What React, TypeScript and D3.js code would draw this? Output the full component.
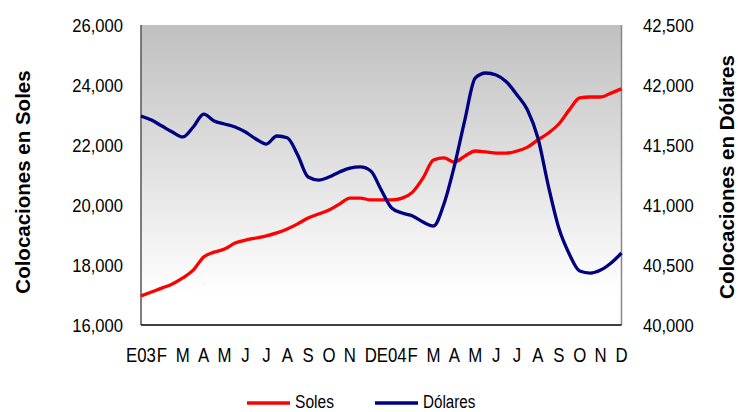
import React from 'react';
import * as d3 from 'd3';

const monthLabels = ['E03', 'F', 'M', 'A', 'M', 'J', 'J', 'A', 'S', 'O', 'N', 'D',
  'E04', 'F', 'M', 'A', 'M', 'J', 'J', 'A', 'S', 'O', 'N', 'D'];

// two readings per month (start and middle), last one at D04
const soles = [
  16970, 17100, 17230, 17370, 17570, 17830, 18270, 18430, 18530, 18730,
  18830, 18900, 18970, 19070, 19200, 19370, 19570, 19700, 19830, 20030,
  20230, 20230, 20170, 20170, 20170, 20230, 20430, 20900, 21500, 21570,
  21430, 21630, 21800, 21770, 21730, 21730, 21800, 21930, 22170, 22400,
  22700, 23170, 23570, 23600, 23600, 23730, 23870,
];
const dolares = [
  41742, 41708, 41658, 41608, 41567, 41650, 41758, 41700, 41675, 41650,
  41608, 41550, 41508, 41575, 41560, 41417, 41233, 41208, 41233, 41275,
  41308, 41317, 41283, 41125, 40975, 40933, 40908, 40858, 40825, 41008,
  41325, 41708, 42058, 42100, 42083, 42025, 41917, 41792, 41558, 41158,
  40808, 40592, 40450, 40433, 40458, 40517, 40600,
];

const solesTicks = [16000, 18000, 20000, 22000, 24000, 26000];
const dolaresTicks = [40000, 40500, 41000, 41500, 42000, 42500];

const W = 738;
const H = 412;
const plot = { left: 141, right: 621.5, top: 25, bottom: 325 };
const font = '"Liberation Sans", Arial, sans-serif';
const fmt = d3.format(',');

export default function App() {
  const x = d3.scaleLinear().domain([0, monthLabels.length - 1]).range([plot.left, plot.right]);
  const yS = d3.scaleLinear().domain([16000, 26000]).range([plot.bottom, plot.top]);
  const yD = d3.scaleLinear().domain([40000, 42500]).range([plot.bottom, plot.top]);

  const lineS = d3.line<number>().x((_, i) => x(i / 2)).y(d => yS(d)).curve(d3.curveMonotoneX);
  const lineD = d3.line<number>().x((_, i) => x(i / 2)).y(d => yD(d)).curve(d3.curveMonotoneX);

  return (
    <svg width={W} height={H} style={{ position: 'absolute', left: 0, top: 0 }} fontFamily={font}>
      <defs>
        <linearGradient id="bg" x1="0" y1="0" x2="0" y2="1">
          <stop offset="0" stopColor="#c0c0c0" />
          <stop offset="0.9" stopColor="#ffffff" />
          <stop offset="1" stopColor="#ffffff" />
        </linearGradient>
      </defs>

      <rect x={plot.left} y={plot.top} width={plot.right - plot.left} height={plot.bottom - plot.top} fill="url(#bg)" />

      <line x1={plot.left} x2={plot.left} y1={plot.top} y2={plot.bottom} stroke="#555" strokeWidth={1.5} />
      <line x1={plot.right} x2={plot.right} y1={plot.top} y2={plot.bottom} stroke="#888" strokeWidth={1.5} />
      <line x1={plot.left} x2={plot.right} y1={plot.bottom} y2={plot.bottom} stroke="#000" strokeWidth={1.5} />

      <path d={lineS(soles) || ''} fill="none" stroke="#ff0000" strokeWidth={3.3} strokeLinejoin="round" />
      <path d={lineD(dolares) || ''} fill="none" stroke="#000080" strokeWidth={3.3} strokeLinejoin="round" />

      {solesTicks.map(t => (
        <g key={'s' + t} transform={`translate(123,${yS(t) + 6.5}) scale(0.9,1)`}>
          <text textAnchor="end" fontSize={18.5} fill="#000">{fmt(t)}</text>
        </g>
      ))}
      {dolaresTicks.map(t => (
        <g key={'d' + t} transform={`translate(643,${yD(t) + 6.5}) scale(0.9,1)`}>
          <text textAnchor="start" fontSize={18.5} fill="#000">{fmt(t)}</text>
        </g>
      ))}

      {monthLabels.map((m, i) => (
        <g key={'m' + i} transform={`translate(${x(i)},362) scale(0.8,1)`}>
          <text textAnchor="middle" fontSize={21} fill="#000">{m}</text>
        </g>
      ))}

      <text transform="translate(30,182) rotate(-90)" textAnchor="middle" fontSize={20.5} fontWeight="bold">
        Colocaciones en Soles
      </text>
      <text transform="translate(734,177) rotate(-90)" textAnchor="middle" fontSize={20.5} fontWeight="bold">
        Colocaciones en Dólares
      </text>

      <line x1={247} x2={290} y1={403} y2={403} stroke="#ff0000" strokeWidth={3.5} />
      <g transform="translate(295,408) scale(0.82,1)">
        <text fontSize={19} fill="#000">Soles</text>
      </g>
      <line x1={375} x2={418} y1={403} y2={403} stroke="#000080" strokeWidth={3.5} />
      <g transform="translate(423,408) scale(0.8,1)">
        <text fontSize={19} fill="#000">Dólares</text>
      </g>
    </svg>
  );
}
